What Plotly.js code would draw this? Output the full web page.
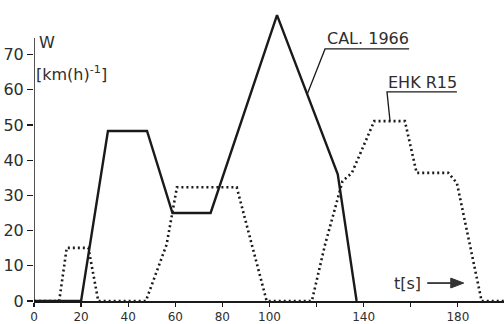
<!DOCTYPE html>
<html>
<head>
<meta charset="utf-8">
<script src="https://cdn.plot.ly/plotly-3.0.1.min.js"></script>
<style>html,body{margin:0;padding:0;background:#fff;}#chart{width:504px;height:324px;}</style>
</head>
<body>
<div id="chart"></div>
<script>
// CAL. 1966 cycle (solid)
const calT = [0, 20, 31.4, 48, 58.8, 75, 103.2, 129, 137];
const calW = [0, 0, 48.3, 48.3, 25, 25, 81.2, 36, 0];
// EHK R15 cycle (dotted)
const ehkT = [0, 10.7, 13.9, 23.1, 27.3, 47.5, 56.3, 60.7, 86.1, 98.8, 118, 123.6, 131, 135, 144.5, 157.5, 162.5, 175.9, 179.6, 190.1, 200];
const ehkW = [0, 0, 15.1, 15.1, 0, 0, 16, 32.3, 32.3, 0, 0, 16, 34, 36.4, 51.1, 51.1, 36.4, 36.4, 33.5, 0, 0];
// axis ticks
const xTickVals = [0, 20, 40, 60, 80, 100, 140, 180];
const xTickText = ['0', '20', '40', '60', '80', '100', '140', '180'];
const xUnlabeledTicks = [120, 160];
const yTickVals = [0, 10, 20, 30, 40, 50, 60, 70];
const yTickText = ['0', '10', '20', '30', '40', '50', '60', '70'];

const ink = '#1a1a1a';
const fam = 'DejaVu Sans, Liberation Sans, sans-serif';
const font = {family: fam, size: 16, color: '#2e2e2e'};
const xfont = {family: fam, size: 12, color: '#2e2e2e'};

const traces = [
  {x: ehkT, y: ehkW, mode: 'lines', line: {color: ink, width: 2.6, dash: '2px,3px'}, hoverinfo: 'none'},
  {x: calT, y: calW, mode: 'lines', line: {color: ink, width: 2.4}, hoverinfo: 'none'}
];

const layout = {
  width: 504, height: 324,
  margin: {l: 34, r: 0, t: 0, b: 23, pad: 0},
  paper_bgcolor: '#fff', plot_bgcolor: '#fff',
  showlegend: false,
  font: font,
  xaxis: {
    range: [0, 199.6], showgrid: false, zeroline: false,
    showline: true, linecolor: ink, linewidth: 1.5,
    ticks: 'outside', ticklen: 4, tickwidth: 1.2, tickcolor: ink,
    tickvals: xTickVals, ticktext: xTickText, tickfont: xfont,
    minor: {tickvals: xUnlabeledTicks, ticks: 'outside', ticklen: 4, tickwidth: 1.2, tickcolor: ink, showgrid: false},
    automargin: false
  },
  yaxis: {
    range: [0, 85.5], showgrid: false, zeroline: false,
    showline: false,
    ticks: 'outside', ticklen: 6, tickwidth: 1.2, tickcolor: ink,
    tickvals: yTickVals, ticktext: yTickText, tickfont: font,
    automargin: false
  },
  shapes: [
    {type: 'line', xref: 'x', yref: 'y', x0: 0, x1: 0, y0: 0, y1: 74.7, line: {color: ink, width: 1.5}},
    // CAL label underline + leader
    {type: 'path', xref: 'x', yref: 'y', path: 'M 159.3 71.6 L 123.6 71.6 L 115.9 58.5', line: {color: ink, width: 1.3}},
    // EHK label underline + leader
    {type: 'path', xref: 'x', yref: 'y', path: 'M 179.6 59.4 L 149.9 59.4 L 151.2 51.1', line: {color: ink, width: 1.3}},
    // t[s] arrow shaft
    {type: 'line', xref: 'x', yref: 'y', x0: 167, x1: 178, y0: 5.1, y1: 5.1, line: {color: '#333', width: 1.8}},
    // arrow head
    {type: 'path', xref: 'x', yref: 'y', path: 'M 177 6.5 L 182.5 5.1 L 177 3.7 Z', fillcolor: '#333', line: {color: '#333', width: 1}}
  ],
  annotations: [
    {xref: 'x', yref: 'y', x: 123.6, y: 74.6, text: 'CAL. 1966', showarrow: false, xanchor: 'left', yanchor: 'middle', font: font},
    {xref: 'x', yref: 'y', x: 149.6, y: 62.2, text: 'EHK R15', showarrow: false, xanchor: 'left', yanchor: 'middle', font: font},
    {xref: 'x', yref: 'y', x: 1.2, y: 73.3, text: 'W', showarrow: false, xanchor: 'left', yanchor: 'middle', font: font},
    {xref: 'x', yref: 'y', x: 0.0, y: 64.6, text: '[km(h)<sup>-1</sup>]', showarrow: false, xanchor: 'left', yanchor: 'middle', font: font},
    {xref: 'x', yref: 'y', x: 152.2, y: 5.1, text: 't[s]', showarrow: false, xanchor: 'left', yanchor: 'middle', font: font}
  ]
};

Plotly.newPlot('chart', traces, layout, {displayModeBar: false, staticPlot: true});
</script>
</body>
</html>
